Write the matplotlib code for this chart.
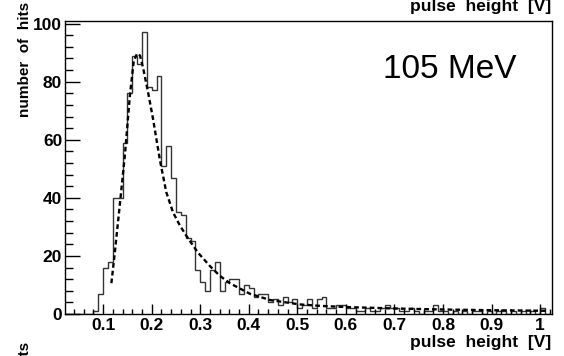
import matplotlib

matplotlib.use('Agg')

import matplotlib.pyplot as plt
import numpy as np
from matplotlib.ticker import MultipleLocator

plt.rcParams['font.family'] = ['Liberation Sans', 'DejaVu Sans']

# histogram: 100 bins of 0.01 V starting at 0.02 V
bin_start = 0.02
bin_width = 0.01
counts = [
    0, 0, 0, 0, 0, 0,                      # 0.02 - 0.08
    1, 7, 16, 18, 40, 40, 59, 76, 89, 86,  # 0.08 - 0.18
    97, 78, 77, 82, 51, 58, 47, 35, 34, 26,  # 0.18 - 0.28
    25, 15, 11, 8, 15, 18, 8, 11, 12, 12,    # 0.28 - 0.38
    7, 10, 9, 6, 7, 7, 4, 5, 3, 6,           # 0.38 - 0.48
    4, 5, 2, 3, 5, 2, 5, 6, 2, 2,            # 0.48 - 0.58
    3, 3, 2, 2, 1, 1, 2, 1, 1, 2,            # 0.58 - 0.68
    3, 2, 2, 1, 1, 2, 1, 0, 1, 1,            # 0.68 - 0.78
    3, 1, 1, 0, 1, 0, 1, 0, 1, 1,            # 0.78 - 0.88
    0, 1, 0, 1, 1, 0, 1, 0, 1, 0,            # 0.88 - 0.98
    1, 0, 2, 0,                              # 0.98 - 1.02
]

# fitted curve
fit_x = [0.117, 0.124, 0.134, 0.145, 0.155, 0.163, 0.170, 0.176, 0.182, 0.193,
         0.203, 0.217, 0.230, 0.244, 0.258, 0.272, 0.295, 0.320, 0.340, 0.361,
         0.402, 0.444, 0.505, 0.547, 0.600, 0.700, 0.800, 0.900, 1.015]
fit_y = [10.6, 21, 37, 55, 75, 87, 89.7, 89, 85, 76,
         67, 53, 42, 35, 30.5, 26.8, 21.2, 16.5, 13.2, 10.6,
         7.0, 4.8, 3.3, 2.8, 2.4, 1.9, 1.55, 1.3, 1.1]

label = '105 MeV'
x_title = 'pulse  height  [V]'
y_title = 'number  of  hits'

edges = bin_start + bin_width * np.arange(len(counts) + 1)

fig = plt.figure(figsize=(5.64, 3.56), dpi=100)
ax = fig.add_axes([65 / 564, 42 / 356, 487 / 564, 293.3 / 356])

ax.stairs(counts, edges, color='#333333', linewidth=1.0)
ax.plot(fit_x, fit_y, color='black', linewidth=1.7, linestyle=(0, (2.0, 1.3)))

ax.set_xlim(0.0215, 1.0245)
ax.set_ylim(0, 101)

ax.xaxis.set_major_locator(MultipleLocator(0.1))
ax.xaxis.set_minor_locator(MultipleLocator(0.02))
ax.yaxis.set_major_locator(MultipleLocator(20))
ax.yaxis.set_minor_locator(MultipleLocator(4))
ax.xaxis.set_major_formatter(lambda v, p: f'{v:g}')

ax.tick_params(axis='x', which='major', direction='in', length=7, width=1, pad=3,
               labelsize=12.5, top=False)
ax.tick_params(axis='x', which='minor', direction='in', length=3.5, width=1, top=False)
ax.tick_params(axis='y', which='major', direction='in', length=11, width=1, pad=2,
               labelsize=12.5, right=False)
ax.tick_params(axis='y', which='minor', direction='in', length=5.5, width=1, right=False)
for t in ax.get_xticklabels() + ax.get_yticklabels():
    t.set_fontweight('bold')
for s in ax.spines.values():
    s.set_linewidth(1.0)

ax.text(450 / 564, 1 - 69 / 356, label, transform=fig.transFigure, fontsize=24,
        ha='center', va='center')

# axis titles (ROOT style, bold, aligned to the axis ends)
fig.text(551 / 564, 1 - 347 / 356, x_title, fontsize=12.5, fontweight='bold',
         ha='right', va='baseline')
fig.text(25 / 564, 1 - 2 / 356, y_title, fontsize=11, fontweight='bold',
         rotation=90, ha='center', va='top')

# pieces of the neighbouring panels cut by the crop
fig.text(551 / 564, 1 - 11 / 356, x_title, fontsize=12.5, fontweight='bold',
         ha='right', va='baseline')
fig.text(25 / 564, 1 - 342 / 356, y_title, fontsize=11, fontweight='bold',
         rotation=90, ha='center', va='top')

fig.savefig('out.png', dpi=100)
